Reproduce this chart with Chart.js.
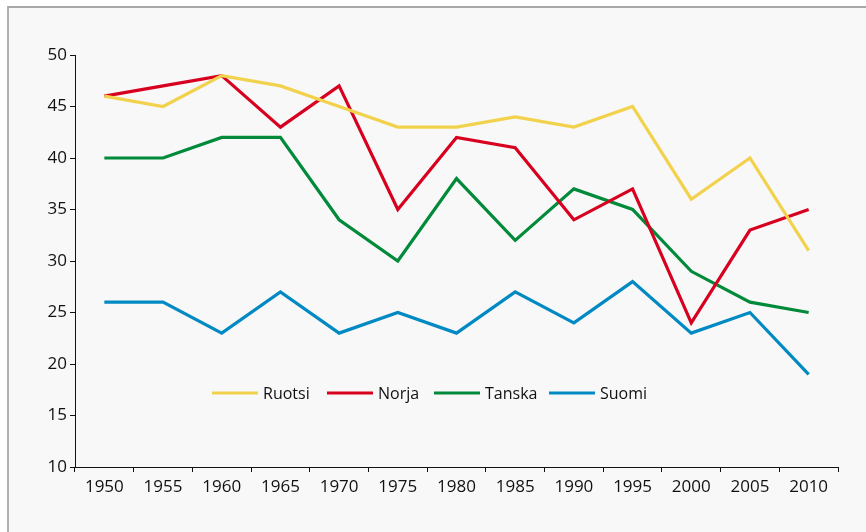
<!DOCTYPE html>
<html lang="fi">
<head>
  <meta charset="UTF-8">
  <title>Pohjoismaat 1950-2010</title>
  <script src="https://cdn.jsdelivr.net/npm/chart.js"></script>
  <style>
    html, body { margin: 0; padding: 0; background: #fff; }
    .wrap {
      position: relative;
      width: 866px;
      height: 532px;
      overflow: hidden;
    }
    .panel {
      position: absolute;
      left: 7px;
      top: 6px;
      width: 900px;
      height: 600px;
      background: #f8f8f8;
      border-left: 2px solid #b0b0b0;
      border-top: 2px solid #a8a8a8;
    }
    canvas { position: absolute; left: 0; top: 0; }
  </style>
</head>
<body>
<div class="wrap">
  <div class="panel"></div>
  <canvas id="chart" width="866" height="532"></canvas>
</div>

<script>
const years = ["1950", "1955", "1960", "1965", "1970", "1975", "1980", "1985", "1990", "1995", "2000", "2005", "2010"];
const ruotsi = [46, 45, 48, 47, 45, 43, 43, 44, 43, 45, 36, 40, 31];
const norja  = [46, 47, 48, 43, 47, 35, 42, 41, 34, 37, 24, 33, 35];
const tanska = [40, 40, 42, 42, 34, 30, 38, 32, 37, 35, 29, 26, 25];
const suomi  = [26, 26, 23, 27, 23, 25, 23, 27, 24, 28, 23, 25, 19];
const yTicks = [10, 15, 20, 25, 30, 35, 40, 45, 50];

const fontFamily = "'Open Sans', sans-serif";

// legend drawn inside the plot, like the original
const legendX = [212, 327, 434, 549];
const legendY = 393;
const insideLegend = {
  id: 'insideLegend',
  afterDraw(chart) {
    const ctx = chart.ctx;
    ctx.save();
    ctx.font = "16px " + fontFamily;
    ctx.textBaseline = 'middle';
    chart.data.datasets.forEach((ds, i) => {
      const x = legendX[i];
      ctx.strokeStyle = ds.borderColor;
      ctx.lineWidth = 3;
      ctx.beginPath();
      ctx.moveTo(x, legendY);
      ctx.lineTo(x + 46, legendY);
      ctx.stroke();
      ctx.fillStyle = '#111';
      ctx.fillText(ds.label, x + 51, legendY + 1);
    });
    ctx.restore();
  }
};

const line = (label, data, color) => ({
  label, data,
  borderColor: color,
  borderWidth: 3.2,
  pointRadius: 0,
  tension: 0,
  fill: false
});

new Chart(document.getElementById('chart'), {
  type: 'line',
  data: {
    labels: years,
    datasets: [
      line('Ruotsi', ruotsi, '#f2d24c'),
      line('Norja', norja, '#d8001f'),
      line('Tanska', tanska, '#008a3a'),
      line('Suomi', suomi, '#0089c2')
    ]
  },
  options: {
    responsive: false,
    animation: false,
    layout: { padding: { left: 0, right: 28, top: 55, bottom: 0 } },
    plugins: { legend: { display: false }, tooltip: { enabled: false } },
    scales: {
      x: {
        offset: true,
        grid: { display: true, drawOnChartArea: false, offset: true, tickLength: 5, color: '#111' },
        border: { display: true, color: '#111', width: 1 },
        ticks: { color: '#111', font: { family: fontFamily, size: 17 }, padding: 5, maxRotation: 0 },
        afterFit(scale) { scale.height = 65; }
      },
      y: {
        min: 10,
        max: 50,
        afterBuildTicks(scale) { scale.ticks = yTicks.map(v => ({ value: v })); },
        grid: { display: true, drawOnChartArea: false, tickLength: 5, color: '#111' },
        border: { display: true, color: '#111', width: 1 },
        ticks: { color: '#111', font: { family: fontFamily, size: 17 }, padding: 3 },
        afterFit(scale) { scale.width = 75; }
      }
    }
  },
  plugins: [insideLegend]
});
</script>
</body>
</html>
